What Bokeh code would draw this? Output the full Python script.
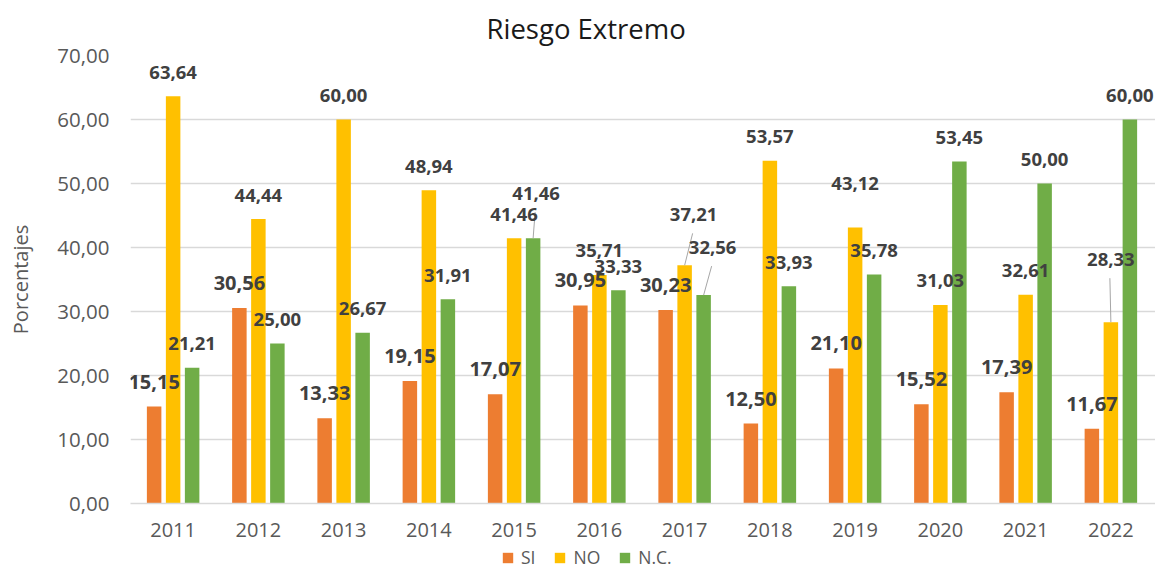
from bokeh.plotting import figure
from bokeh.layouts import column
from bokeh.models import (ColumnDataSource, Range1d, FixedTicker, LabelSet,
                          Legend, LegendItem)
from bokeh.embed import file_html
from bokeh.resources import INLINE
from bokeh.core.properties import value
from bokeh.transform import dodge

# ---------------- data ----------------
years = [2011, 2012, 2013, 2014, 2015, 2016, 2017, 2018, 2019, 2020, 2021, 2022]
si = [15.15, 30.56, 13.33, 19.15, 17.07, 30.95, 30.23, 12.50, 21.10, 15.52, 17.39, 11.67]
no = [63.64, 44.44, 60.00, 48.94, 41.46, 35.71, 37.21, 53.57, 43.12, 31.03, 32.61, 28.33]
nc = [21.21, 25.00, 26.67, 31.91, 41.46, 33.33, 32.56, 33.93, 35.78, 53.45, 50.00, 60.00]
series_names = ["SI", "NO", "N.C."]
y_ticks = [0, 10, 20, 30, 40, 50, 60, 70]
title_text = "Riesgo Extremo"
y_label = "Porcentajes"

# ---------------- styles / layout ----------------
colors = ["#ED7D31", "#FFC000", "#70AD47"]
FONT = "Open Sans"
W = 1155
H1, H2 = 545, 24
ML, MR, MT, MB = 130, 0, 55, 42
px_per_year = 85.25
x_start = 2010.5
frame_w = W - ML - MR
frame_h = H1 - MT - MB
x_end = x_start + frame_w / px_per_year
y_max = 70
px_per_unit = frame_h / y_max
bar_shift_px = 19.0
bar_w_px = 14.5
shift = bar_shift_px / px_per_year
bar_w = bar_w_px / px_per_year

# label placement (pixels): default distance above bar top, and manual overrides
default_dy = [25, 24, 24]
label_sizes = ["20px", "18.5px", "18.5px"]
overrides = {  # (series index, year) -> (dx, dy, leader)
    (2, 2015): (3, 45, True),
    (1, 2017): (9, 51, True),
    (2, 2017): (9, 48, True),
    (1, 2019): (0, 44, False),
    (1, 2022): (0, 63, True),
}

p = figure(width=W, height=H1, x_range=Range1d(x_start, x_end), y_range=Range1d(0, y_max),
           output_backend="svg", toolbar_location=None, title=title_text,
           min_border_left=ML, min_border_right=MR, min_border_top=MT, min_border_bottom=MB)
p.outline_line_color = None
p.background_fill_color = "white"
p.border_fill_color = "white"

# title
p.title.align = "left"
p.title.vertical_align = "top"
p.title.offset = 356
p.title.standoff = 14
p.title.text_font = FONT
p.title.text_font_size = "27.5px"
p.title.text_font_style = "normal"
p.title.text_color = "#1A1A1A"

values_list = [si, no, nc]
offsets = [-shift, 0.0, shift]
sources = []
for k, vals in enumerate(values_list):
    dxs, dys, leaders_x0, leaders_y0, leaders_x1, leaders_y1 = [], [], [], [], [], []
    for yr, v in zip(years, vals):
        dx, dy, lead = overrides.get((k, yr), (0, default_dy[k], False))
        dxs.append(dx)
        dys.append(dy)
        if lead:
            leaders_x0.append(yr + offsets[k])
            leaders_y0.append(v)
            leaders_x1.append(yr + offsets[k] + (dx - 1) / px_per_year)
            leaders_y1.append(v + (dy - 19) / px_per_unit)
    src = ColumnDataSource(dict(
        x=years, top=vals,
        txt=[f"{v:.2f}".replace(".", ",") for v in vals],
        dx=dxs, dy=dys))
    sources.append(src)
    p.vbar(x=dodge("x", offsets[k], range=p.x_range), top="top", width=bar_w, bottom=0,
           source=src, fill_color=colors[k], line_color=None)
    if leaders_x0:
        p.segment(x0=leaders_x0, y0=leaders_y0, x1=leaders_x1, y1=leaders_y1,
                  line_color="#A6A6A6", line_width=1)
    labels = LabelSet(x=dodge("x", offsets[k], range=p.x_range), y="top", text="txt",
                      x_offset="dx", y_offset="dy", source=src,
                      text_align="center", text_baseline="middle",
                      text_font=value(FONT), text_font_style="bold",
                      text_font_size=label_sizes[k], text_color="#404040")
    p.add_layout(labels)

# axes
p.xgrid.visible = False
p.ygrid.grid_line_color = "#D9D9D9"
p.ygrid.grid_line_width = 1.3

p.yaxis.ticker = FixedTicker(ticks=y_ticks)
p.yaxis.major_label_overrides = {t: f"{t:.2f}".replace(".", ",") for t in y_ticks}
p.yaxis.axis_line_color = None
p.yaxis.major_tick_line_color = None
p.yaxis.minor_tick_line_color = None
p.yaxis.major_tick_out = 0
p.yaxis.major_tick_in = 0
p.yaxis.major_label_standoff = 21
p.yaxis.major_label_text_font = FONT
p.yaxis.major_label_text_font_size = "20.5px"
p.yaxis.major_label_text_color = "#595959"
p.yaxis.axis_label = y_label
p.yaxis.axis_label_text_font = FONT
p.yaxis.axis_label_text_font_size = "20px"
p.yaxis.axis_label_text_font_style = "normal"
p.yaxis.axis_label_text_color = "#595959"
p.yaxis.axis_label_standoff = 20

p.xaxis.ticker = FixedTicker(ticks=years)
p.xaxis.major_label_overrides = {y: str(y) for y in years}
p.xaxis.axis_line_color = "#D9D9D9"
p.xaxis.axis_line_width = 1.3
p.xaxis.major_tick_line_color = None
p.xaxis.minor_tick_line_color = None
p.xaxis.major_tick_out = 0
p.xaxis.major_tick_in = 0
p.xaxis.major_label_standoff = 19
p.xaxis.major_label_text_font = FONT
p.xaxis.major_label_text_font_size = "20px"
p.xaxis.major_label_text_color = "#595959"

# legend strip below the chart (its bars lie outside the strip's view; only the legend shows)
leg_fig = figure(width=W, height=H2, x_range=Range1d(0, 1), y_range=Range1d(100, 101),
                 output_backend="svg", toolbar_location=None, min_border=0,
                 x_axis_location=None, y_axis_location=None)
leg_fig.outline_line_color = None
leg_fig.grid.visible = False
leg_renderers = [leg_fig.vbar(x="x", top="top", width=0.5, source=src, fill_color=c, line_color=None)
                 for src, c in zip(sources, colors)]
legend = Legend(items=[LegendItem(label=n, renderers=[r]) for n, r in zip(series_names, leg_renderers)],
                orientation="horizontal", location=(371, 0),
                glyph_width=13, glyph_height=13, label_standoff=7, spacing=18,
                label_width=10, label_height=13, padding=0, margin=0,
                label_text_font=FONT, label_text_font_size="17.5px", label_text_color="#595959",
                border_line_color=None, background_fill_alpha=0)
leg_fig.add_layout(legend, "center")

layout = column(p, leg_fig, spacing=0)
open("out.html", "w").write(file_html(layout, INLINE))
